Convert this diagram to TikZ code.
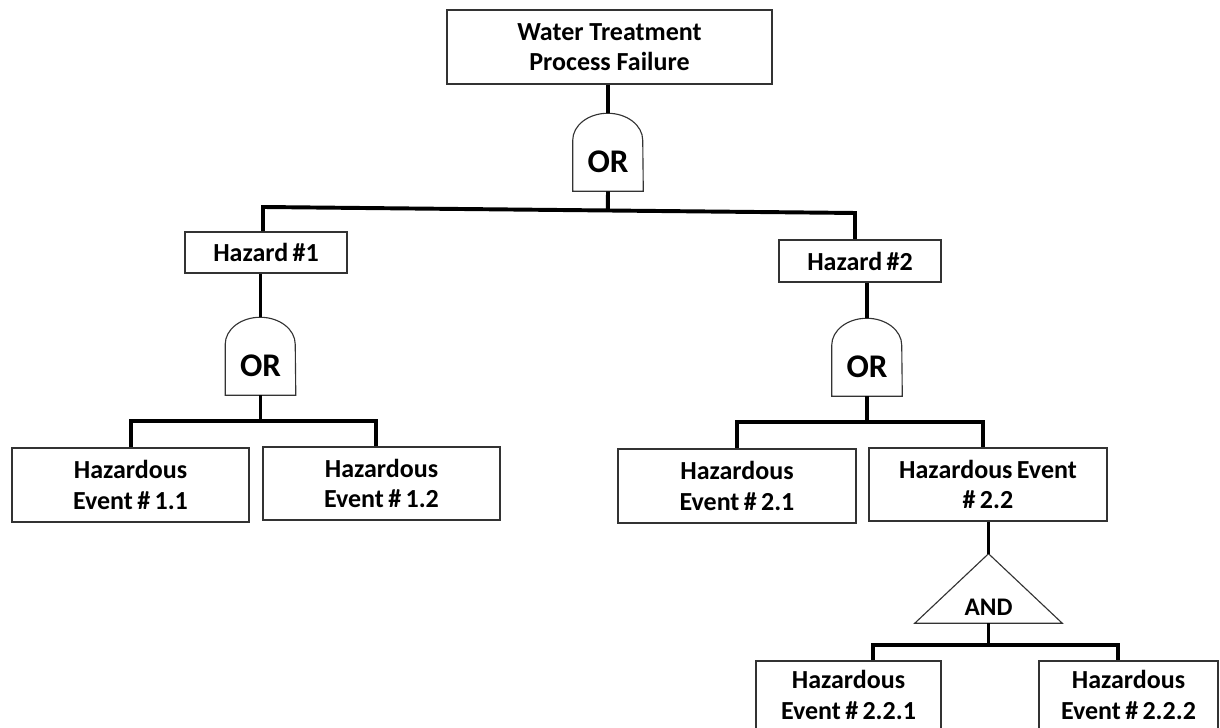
\documentclass[tikz,border=0pt]{standalone}
\usepackage{fontspec}
\setmainfont{Carlito}
\usetikzlibrary{calc}

\begin{document}
\begin{tikzpicture}[x=0.025cm,y=0.025cm,
  event node/.style={rectangle,draw=black!80,line width=1.1pt,fill=white,align=center,inner sep=0pt,font=\bfseries\fontsize{18.5}{21.5}\selectfont},
  or gate/.style={rectangle,inner sep=0pt,minimum width=1.75cm,minimum height=1.95cm,text height=1.025cm,text depth=0pt,font=\bfseries\fontsize{23.5}{25}\selectfont},
  and gate/.style={rectangle,inner sep=0pt,minimum width=3.675cm,minimum height=1.725cm,text height=1.325cm,text depth=0pt,font=\bfseries\fontsize{18}{20}\selectfont},
  gate line/.style={draw=black!80,line width=0.8pt},
  tree/.style={line width=2.8pt,line join=miter}]

  \clip (0,0) rectangle (1220,728);

  % events
  \node[event node,minimum width=8.125cm,minimum height=1.85cm] (T) at (609.5,681) {Water Treatment\\Process Failure};
  \node[event node,minimum width=4.05cm,minimum height=1.025cm] (H1) at (266,475.5) {Hazard\,\#1};
  \node[event node,minimum width=4.05cm,minimum height=1.05cm] (H2) at (860,467) {Hazard\,\#2};
  \node[event node,minimum width=5.925cm,minimum height=1.85cm] (E11) at (130.5,243) {Hazardous\\Event\,\#\,1.1};
  \node[event node,minimum width=5.925cm,minimum height=1.825cm] (E12) at (381.5,244.5) {Hazardous\\Event\,\#\,1.2};
  \node[event node,minimum width=5.95cm,minimum height=1.85cm] (E21) at (737,242) {Hazardous\\Event\,\#\,2.1};
  \node[event node,minimum width=5.95cm,minimum height=1.825cm] (E22) at (988,243.5) {Hazardous\,Event\\\#\,2.2};
  \node[event node,minimum width=4.625cm,minimum height=1.7cm] (E221) at (848.5,33) {Hazardous\\Event\,\#\,2.2.1};
  \node[event node,minimum width=4.475cm,minimum height=1.7cm] (E222) at (1128.5,33) {Hazardous\\Event\,\#\,2.2.2};

  % gates
  \node[or gate] (G0) at (608,576) {OR};
  \node[or gate] (G1) at (260.5,372) {OR};
  \node[or gate] (G2) at (867,371) {OR};
  \node[and gate] (A) at (988.5,139.5) {AND};

  \foreach \g in {G0,G1,G2}
    \draw[gate line] (\g.south west) -- ++(0,1.275cm) arc[start angle=180,end angle=0,x radius=0.875cm,y radius=0.675cm] -- (\g.south east) -- cycle;
  \draw[gate line] (A.south west) -- (A.north) -- (A.south east) -- cycle;

  % bars
  \coordinate (b0l) at (263,521);
  \coordinate (b0r) at (855,515);
  \coordinate (b1l) at (131,307);
  \coordinate (b1r) at (376,307);
  \coordinate (b2l) at (737,306);
  \coordinate (b2r) at (983,306);
  \coordinate (b3l) at (873,83);
  \coordinate (b3r) at (1118,83);

  \draw[tree] (T.south -| G0.north) -- (G0.north);
  \draw[tree] (G0.south) -- ($(b0l)!(G0.south)!(b0r)$);
  \draw[tree] (b0l |- H1.north) -- (b0l) -- (b0r) -- (b0r |- H2.north);

  \draw[tree] (G1.north |- H1.south) -- (G1.north);
  \draw[tree] (G1.south) -- (G1.south |- b1l);
  \draw[tree] (b1l |- E11.north) -- (b1l) -- (b1r) -- (b1r |- E12.north);

  \draw[tree] (G2.north |- H2.south) -- (G2.north);
  \draw[tree] (G2.south) -- (G2.south |- b2l);
  \draw[tree] (b2l |- E21.north) -- (b2l) -- (b2r) -- (b2r |- E22.north);

  \draw[tree] (A.north |- E22.south) -- (A.north);
  \draw[tree] (A.south) -- (A.south |- b3l);
  \draw[tree] (b3l |- E221.north) -- (b3l) -- (b3r) -- (b3r |- E222.north);
\end{tikzpicture}
\end{document}
